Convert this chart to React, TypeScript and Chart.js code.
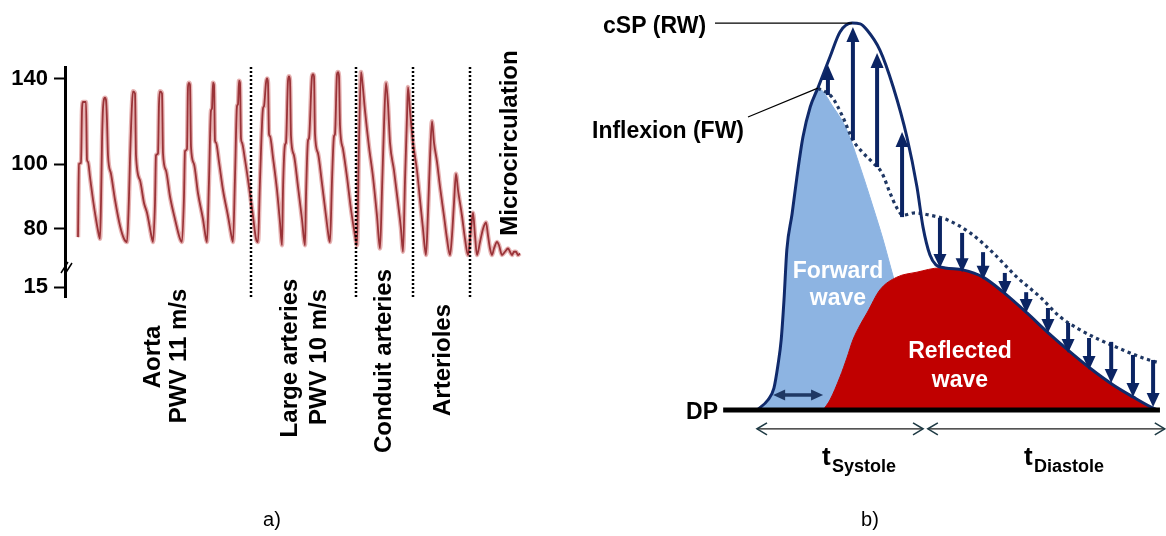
import React, { useEffect, useRef } from 'react';
import { Chart, registerables, LinearScale } from 'chart.js';

Chart.register(...registerables);

const FONT = 'Arial, "Liberation Sans", Helvetica, sans-serif';

// ---------- Panel a: pressure waveform along the arterial tree (time a.u., mmHg) ----------
const AORTA: [number, number][] = [
  [13, 77.5], [14, 100], [16, 100.5], [17, 125], [18, 129], [21, 129], [22, 102], [23, 101], [25, 96], [28, 89], [31, 83], [34, 78], [35, 77],
  [36, 88], [37, 110], [38, 126], [40, 131], [41, 130], [42, 120], [43, 104], [46, 97], [50, 89], [55, 81], [59, 77], [62, 76],
  [64, 90], [65, 102], [67, 128], [68, 134], [70, 133], [71, 104], [75, 95], [79, 88], [82, 85], [87, 77], [88, 76],
  [90, 88], [91, 104], [93, 105], [94, 128], [95, 134], [97, 133], [98, 105], [101, 98], [105, 90], [110, 83], [115, 77], [117, 76],
  [119, 90], [120, 106], [122, 107], [123, 136], [124, 138], [125, 137], [126, 108], [129, 100], [133, 91], [138, 83], [141, 77], [142, 76],
  [144, 95], [146, 125], [147, 126], [148, 138], [149, 137], [150, 111], [151, 110], [154, 101], [158, 92], [163, 84], [167, 77], [168, 76],
  [170, 96], [172, 127], [173, 128], [174, 139], [175, 138], [176, 112], [177, 110], [180, 102], [184, 93], [188, 84], [191, 77], [193, 76],
];
const LARGE_ARTERIES: [number, number][] = [
  [195, 95], [198, 126], [199, 127], [201, 138], [202, 140], [203, 138], [204, 114], [205, 113], [208, 103], [212, 92], [215, 82], [217, 75],
  [218, 92], [220, 109], [221, 110], [223, 139], [224, 141], [225, 139], [226, 113], [229, 104], [233, 93], [237, 83], [240, 75],
  [241, 90], [243, 111], [244, 112], [247, 141], [248, 142], [249, 141], [250, 114], [253, 105], [257, 94], [261, 84], [264, 77], [265, 76],
  [267, 95], [269, 113], [270, 114], [272, 142], [273, 143], [274, 141], [275, 118], [278, 107], [282, 96], [286, 86], [290, 78], [292, 75],
];
const CONDUIT: [number, number][] = [
  [294, 110], [296, 143], [297, 140], [300, 125], [304, 108], [308, 96], [312, 84], [315, 74],
  [317, 92], [319, 118], [321, 138], [323, 128], [325, 110], [329, 98], [333, 88], [336, 80], [338, 73],
  [340, 95], [342, 122], [343, 136], [345, 125], [348, 110], [352, 98], [355, 89], [358, 80], [361, 72],
];
const ARTERIOLES: [number, number][] = [
  [363, 85], [365, 103], [367, 120], [369, 110], [372, 101], [375, 93], [379, 84], [382, 77], [385, 72],
  [387, 78], [389, 88], [391, 97], [393, 92], [397, 84], [400, 77], [403, 72],
];
const MICRO: [number, number][] = [
  [406, 80], [408, 85], [410, 78], [412, 72], [415, 76], [418, 80], [421, 82], [423, 78], [425, 74], [427, 72],
  [429, 74], [432, 76], [434, 75], [437, 72], [440, 73], [443, 74], [445, 73], [447, 72], [449, 73], [451, 73], [453, 72], [455, 72.5],
];
const SEGMENT_BOUNDARIES = [186, 291, 348, 405];
const Y_TICKS = [15, 80, 100, 140];
// broken axis: [mmHg, axis position]
const AXIS_MAP: [number, number][] = [[15, 10], [66, 22.5], [80, 68], [100, 133], [140, 218.5]];

const SEGMENT_LABELS = [
  { text: 'Aorta', x: 160, y: 357 },
  { text: 'PWV 11 m/s', x: 186, y: 356 },
  { text: 'Large arteries', x: 297, y: 358 },
  { text: 'PWV 10 m/s', x: 326, y: 357 },
  { text: 'Conduit arteries', x: 391, y: 361 },
  { text: 'Arterioles', x: 450, y: 360 },
  { text: 'Microcirculation', x: 517, y: 143 },
];

// ---------- Panel b: wave separation schematic (time % of cycle, pressure % above DP) ----------
const ENVELOPE: [number, number][] = [
  [0.5, 0], [3.2, 2.6], [4.7, 5.7], [5.7, 11.7], [6.5, 18.2], [7.2, 28.6], [7.9, 41.6], [9.2, 50.9], [10.4, 60.5], [11.9, 70.9],
  [13.7, 78.7], [15.6, 83.6], [18.6, 91.7], [21.1, 98.2], [24.1, 100.5], [26.1, 100.3], [27.8, 98.7], [31.0, 93.5], [34.3, 83.9],
  [37.7, 70.9], [40.2, 57.9], [41.7, 47.5], [43.4, 40.3], [44.9, 37.7], [47.2, 36.9], [51.6, 36.4], [56.6, 34.5], [61.6, 30.6],
  [67.5, 25.2], [72.5, 20.3], [78.2, 15.1], [83.1, 10.9], [88.9, 6.5], [93.8, 3.4], [98.8, 0.5], [100, 0],
];
const FORWARD_WAVE: [number, number][] = [
  [0.5, 0], [2.0, 0.8], [3.2, 2.6], [4.7, 5.7], [5.7, 11.7], [6.5, 18.2], [7.2, 28.6], [7.9, 41.6], [9.2, 50.9], [10.4, 60.5],
  [11.9, 70.9], [13.7, 78.7], [15.6, 83.6], [19.4, 78.7], [22.8, 72.7], [26.1, 63.1], [29.3, 52.7], [31.8, 44.2], [33.5, 37.7],
  [35.2, 31.2], [37.2, 23.4], [39.2, 13], [41.0, 0],
];
const REFLECTED_WAVE: [number, number][] = [
  [16.9, 0], [18.6, 2.6], [21.1, 8.6], [22.8, 13.5], [24.3, 18.2], [26.1, 22.1], [27.8, 25.2], [31.0, 31.2], [35.2, 34.5],
  [40.2, 35.8], [45.9, 36.9], [51.6, 36.4], [56.6, 34.5], [61.6, 30.6], [67.5, 25.2], [72.5, 20.3], [78.2, 15.1], [83.1, 10.9],
  [88.9, 6.5], [93.8, 3.4], [98.8, 0.5], [100, 0],
];
const FORWARD_CONTINUATION: [number, number][] = [
  [15.6, 83.6], [19.1, 81.3], [21.8, 76.1], [24.3, 70.1], [26.8, 66.8], [29.3, 64.2], [31.5, 61.6], [33.5, 56.4], [35.2, 52.5],
  [36.7, 50.6], [39.7, 51.2], [43.4, 50.6], [47.7, 49.4], [53.4, 46], [59.1, 40.8], [65.0, 34.5], [70.7, 29.4], [75.7, 24.2],
  [80.7, 20.8], [85.6, 18.2], [91.3, 15.6], [96.3, 13.5], [100.5, 12.2],
];
// [t, from, tip]
const UP_ARROWS: [number, number, number][] = [[18.1, 81.8, 89.6], [24.3, 70.1, 99.5], [30.3, 63.1, 92.7], [36.5, 50.1, 72.2]];
const DOWN_ARROWS: [number, number, number][] = [
  [45.9, 49.9, 36.9], [51.4, 46, 35.8], [56.6, 41, 33.8], [62.0, 35.6, 29.9], [67.3, 30.6, 25.2], [72.7, 26.5, 20],
  [77.7, 22.6, 14.8], [82.9, 18.7, 10.4], [88.4, 17.7, 7], [93.8, 14.3, 3.4], [98.8, 13, 0.8],
];
const DP_LINE: [number, number] = [-7.9, 100.5];
const SYSTOLE_SPAN: [number, number] = [0.5, 41.7];
const DIASTOLE_SPAN: [number, number] = [42.9, 101.7];
const SPAN_LEVEL = -4.9;
const DELAY_SPAN: [number, number] = [4.5, 16.9];
const DELAY_LEVEL = 3.9;

const CSP_POINT: [number, number] = [24.1, 100.5];
const INFLEXION_POINT: [number, number] = [15.6, 83.6];

function axisPos(v: number): number {
  const m = AXIS_MAP;
  if (v <= m[0][0]) return m[0][1] + (v - m[0][0]) * ((m[1][1] - m[0][1]) / (m[1][0] - m[0][0]));
  for (let i = 1; i < m.length; i++) {
    if (v <= m[i][0]) {
      const [a0, p0] = m[i - 1];
      const [a1, p1] = m[i];
      return p0 + ((v - a0) / (a1 - a0)) * (p1 - p0);
    }
  }
  const [a0, p0] = m[m.length - 2];
  const [a1, p1] = m[m.length - 1];
  return p1 + ((v - a1) / (a1 - a0)) * (p1 - p0);
}

class BrokenLinearScale extends LinearScale {
  static id = 'brokenLinear';
  getPixelForValue(value: any) {
    if (value === null || value === undefined) return NaN;
    return super.getPixelForValue(axisPos(value));
  }
}
Chart.register(BrokenLinearScale as any);

const toXY = (arr: [number, number][]) => arr.map(([x, y]) => ({ x, y }));

function vArrow(ctx: CanvasRenderingContext2D, x: number, yFrom: number, yTip: number, color: string, shaft: number, headW: number, headL: number) {
  const dir = yTip < yFrom ? -1 : 1;
  const yBase = yTip - dir * headL;
  ctx.strokeStyle = color;
  ctx.fillStyle = color;
  ctx.lineWidth = shaft;
  ctx.lineCap = 'butt';
  ctx.beginPath();
  ctx.moveTo(x, yFrom);
  ctx.lineTo(x, yBase + dir * 1);
  ctx.stroke();
  ctx.beginPath();
  ctx.moveTo(x - headW / 2, yBase);
  ctx.lineTo(x + headW / 2, yBase);
  ctx.lineTo(x, yTip);
  ctx.closePath();
  ctx.fill();
}

function filledDoubleArrow(ctx: CanvasRenderingContext2D, x1: number, x2: number, y: number, color: string) {
  const headL = 12, headW = 11;
  ctx.strokeStyle = color;
  ctx.fillStyle = color;
  ctx.lineWidth = 3.5;
  ctx.beginPath();
  ctx.moveTo(x1 + headL - 1, y);
  ctx.lineTo(x2 - headL + 1, y);
  ctx.stroke();
  ctx.beginPath();
  ctx.moveTo(x1, y);
  ctx.lineTo(x1 + headL, y - headW / 2);
  ctx.lineTo(x1 + headL, y + headW / 2);
  ctx.closePath();
  ctx.fill();
  ctx.beginPath();
  ctx.moveTo(x2, y);
  ctx.lineTo(x2 - headL, y - headW / 2);
  ctx.lineTo(x2 - headL, y + headW / 2);
  ctx.closePath();
  ctx.fill();
}

function openDoubleArrow(ctx: CanvasRenderingContext2D, x1: number, x2: number, y: number) {
  ctx.strokeStyle = '#1b1b1b';
  ctx.lineWidth = 1.3;
  ctx.beginPath();
  ctx.moveTo(x1, y);
  ctx.lineTo(x2, y);
  ctx.stroke();
  ctx.strokeStyle = '#1e3a44';
  ctx.lineWidth = 1.6;
  ctx.beginPath();
  ctx.moveTo(x1 + 10, y - 6);
  ctx.lineTo(x1, y);
  ctx.lineTo(x1 + 10, y + 6);
  ctx.moveTo(x2 - 10, y - 6);
  ctx.lineTo(x2, y);
  ctx.lineTo(x2 - 10, y + 6);
  ctx.stroke();
}

const B_OFFSET = 580;

export default function App() {
  const aRef = useRef<HTMLCanvasElement>(null);
  const bRef = useRef<HTMLCanvasElement>(null);

  useEffect(() => {
    const panelAPlugin = {
      id: 'panelA',
      afterDatasetsDraw(chart: any) {
        const { ctx, chartArea, scales } = chart;
        const x = scales.x;
        ctx.save();
        ctx.strokeStyle = '#000';
        ctx.lineWidth = 2.5;
        ctx.setLineDash([2, 2]);
        SEGMENT_BOUNDARIES.forEach((t) => {
          const px = Math.round(x.getPixelForValue(t));
          ctx.beginPath();
          ctx.moveTo(px, chartArea.top);
          ctx.lineTo(px, chartArea.bottom);
          ctx.stroke();
        });
        ctx.restore();
      },
      afterDraw(chart: any) {
        const { ctx } = chart;
        ctx.save();
        // axis break marks
        ctx.strokeStyle = '#000';
        ctx.lineWidth = 1.5;
        ctx.beginPath();
        ctx.moveTo(61, 273);
        ctx.lineTo(68, 262);
        ctx.moveTo(65, 274);
        ctx.lineTo(72, 263);
        ctx.stroke();
        // segment labels
        ctx.fillStyle = '#000';
        ctx.font = `bold 24px ${FONT}`;
        ctx.textAlign = 'center';
        ctx.textBaseline = 'alphabetic';
        SEGMENT_LABELS.forEach((l) => {
          ctx.save();
          ctx.translate(l.x, l.y);
          ctx.rotate(-Math.PI / 2);
          ctx.fillText(l.text, 0, 0);
          ctx.restore();
        });
        ctx.font = `20px ${FONT}`;
        ctx.textBaseline = 'middle';
        ctx.fillText('a)', 272, 520);
        ctx.restore();
      },
    };

    const lineStyle = { pointRadius: 0, cubicInterpolationMode: 'monotone' as const, fill: false };
    const waveform = toXY([...AORTA, ...LARGE_ARTERIES, ...CONDUIT, ...ARTERIOLES, ...MICRO]);

    const chartA = new Chart(aRef.current!, {
      type: 'line',
      data: {
        datasets: [
          { data: waveform, borderColor: '#9a3338', borderWidth: 1.8, ...lineStyle, order: 1 },
          { data: waveform, borderColor: 'rgba(214,128,128,0.6)', borderWidth: 4.5, ...lineStyle, order: 2 },
        ],
      },
      options: {
        responsive: false,
        animation: false,
        devicePixelRatio: 1,
        events: [],
        layout: { padding: { left: 0, right: 54, top: 67, bottom: 239 } },
        plugins: { legend: { display: false }, tooltip: { enabled: false } },
        scales: {
          x: { type: 'linear', min: 0, max: 461, display: false },
          y: {
            type: 'brokenLinear' as any,
            min: 0,
            max: 230,
            afterBuildTicks: (s: any) => {
              s.ticks = Y_TICKS.map((v) => ({ value: v }));
            },
            afterFit: (s: any) => {
              s.width = 65;
            },
            border: { display: true, color: '#000', width: 3 },
            grid: { display: true, drawOnChartArea: false, drawTicks: true, tickLength: 11, tickWidth: 2, tickColor: '#000' },
            ticks: {
              callback: (v: any) => String(v),
              color: '#000',
              padding: 6,
              autoSkip: false,
              font: { family: FONT, size: 22, weight: 'bold' },
            },
          } as any,
        },
      },
      plugins: [panelAPlugin],
    } as any);

    const panelBPlugin = {
      id: 'panelB',
      afterDatasetsDraw(chart: any) {
        const { ctx, scales } = chart;
        const xs = scales.x, ys = scales.y;
        const X = (t: number) => xs.getPixelForValue(t);
        const Y = (p: number) => ys.getPixelForValue(p);
        ctx.save();
        UP_ARROWS.forEach(([t, a, b]) => vArrow(ctx, X(t), Y(a), Y(b), '#0b2463', 4, 13, 15));
        DOWN_ARROWS.forEach(([t, a, b]) => vArrow(ctx, X(t), Y(a), Y(b), '#0b2463', 4, 13, 14));
        filledDoubleArrow(ctx, X(DELAY_SPAN[0]), X(DELAY_SPAN[1]), Y(DELAY_LEVEL), '#1f3864');
        openDoubleArrow(ctx, X(SYSTOLE_SPAN[0]), X(SYSTOLE_SPAN[1]), Y(SPAN_LEVEL));
        openDoubleArrow(ctx, X(DIASTOLE_SPAN[0]), X(DIASTOLE_SPAN[1]), Y(SPAN_LEVEL));
        // leader lines
        ctx.strokeStyle = '#000';
        ctx.lineWidth = 1.2;
        ctx.beginPath();
        ctx.moveTo(715 - B_OFFSET, Y(CSP_POINT[1]));
        ctx.lineTo(X(CSP_POINT[0]), Y(CSP_POINT[1]));
        ctx.moveTo(748 - B_OFFSET, 117);
        ctx.lineTo(X(INFLEXION_POINT[0]), Y(INFLEXION_POINT[1]));
        ctx.stroke();
        ctx.restore();
      },
      afterDraw(chart: any) {
        const { ctx } = chart;
        const o = B_OFFSET;
        ctx.save();
        ctx.textBaseline = 'alphabetic';
        ctx.fillStyle = '#000';
        ctx.font = `bold 23px ${FONT}`;
        ctx.textAlign = 'left';
        ctx.fillText('cSP (RW)', 603 - o, 33);
        ctx.fillText('Inflexion (FW)', 592 - o, 138);
        ctx.textAlign = 'right';
        ctx.fillText('DP', 718 - o, 419);
        ctx.textAlign = 'center';
        ctx.fillStyle = '#fff';
        ctx.fillText('Forward', 838 - o, 278);
        ctx.fillText('wave', 838 - o, 305);
        ctx.fillText('Reflected', 960 - o, 358);
        ctx.fillText('wave', 960 - o, 387);
        ctx.fillStyle = '#000';
        ctx.textAlign = 'left';
        ctx.font = `bold 26px ${FONT}`;
        ctx.fillText('t', 822 - o, 465);
        ctx.fillText('t', 1024 - o, 465);
        ctx.font = `bold 18px ${FONT}`;
        ctx.fillText('Systole', 832 - o, 472);
        ctx.fillText('Diastole', 1034 - o, 472);
        ctx.font = `20px ${FONT}`;
        ctx.textAlign = 'center';
        ctx.textBaseline = 'middle';
        ctx.fillText('b)', 870 - o, 520);
        ctx.restore();
      },
    };

    const chartB = new Chart(bRef.current!, {
      type: 'line',
      data: {
        datasets: [
          { data: toXY([[DP_LINE[0], 0], [DP_LINE[1], 0]]), borderColor: '#000', borderWidth: 5, pointRadius: 0, fill: false, order: 0 },
          { data: toXY(ENVELOPE), borderColor: '#102a6b', borderWidth: 3, ...lineStyle, order: 2 },
          { data: toXY(FORWARD_CONTINUATION), borderColor: '#1f3763', borderWidth: 3.2, borderDash: [3.3, 3.6], borderCapStyle: 'butt', ...lineStyle, order: 3 },
          { data: toXY(REFLECTED_WAVE), borderColor: '#c00000', backgroundColor: '#c00000', borderWidth: 1, pointRadius: 0, cubicInterpolationMode: 'monotone', fill: 'origin', order: 4 },
          { data: toXY(FORWARD_WAVE), borderColor: '#8db4e2', backgroundColor: '#8db4e2', borderWidth: 1, pointRadius: 0, cubicInterpolationMode: 'monotone', fill: 'origin', order: 5 },
        ],
      },
      options: {
        responsive: false,
        animation: false,
        devicePixelRatio: 1,
        events: [],
        layout: { padding: { left: 126.64, right: 0, top: 1.9, bottom: 2.8 } },
        plugins: { legend: { display: false }, tooltip: { enabled: false } },
        scales: {
          x: { type: 'linear', min: -12, max: 102, display: false },
          y: { type: 'linear', min: -32, max: 106, display: false },
        },
      },
      plugins: [panelBPlugin],
    } as any);

    return () => {
      chartA.destroy();
      chartB.destroy();
    };
  }, []);

  return (
    <div style={{ position: 'fixed', left: 0, top: 0, width: 1166, height: 536, background: '#fff' }}>
      <canvas ref={aRef} width={580} height={536} style={{ position: 'absolute', left: 0, top: 0 }} />
      <canvas ref={bRef} width={586} height={536} style={{ position: 'absolute', left: B_OFFSET, top: 0 }} />
    </div>
  );
}
